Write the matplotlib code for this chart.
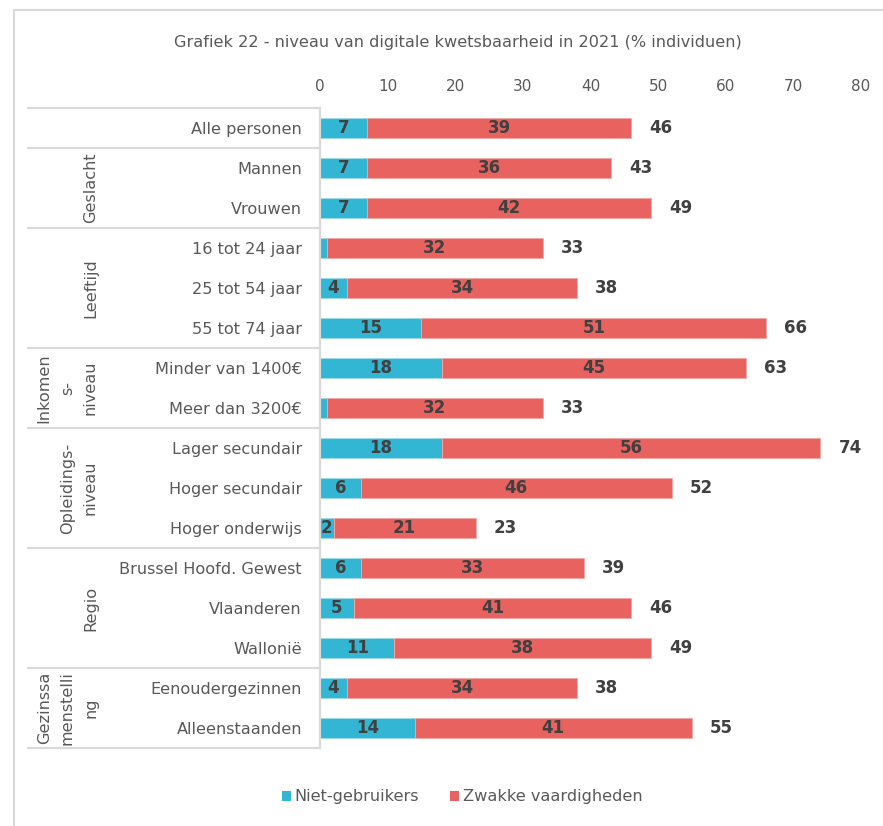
import numpy as np
import matplotlib
matplotlib.use("Agg")
import matplotlib.pyplot as plt
from matplotlib.patches import Patch
from matplotlib.lines import Line2D
import matplotlib.transforms as mtrans

categories = ["Alle personen", "Mannen", "Vrouwen", "16 tot 24 jaar", "25 tot 54 jaar",
              "55 tot 74 jaar", "Minder van 1400€", "Meer dan 3200€", "Lager secundair",
              "Hoger secundair", "Hoger onderwijs", "Brussel Hoofd. Gewest", "Vlaanderen",
              "Wallonië", "Eenoudergezinnen", "Alleenstaanden"]
niet_gebruikers = [7, 7, 7, 1, 4, 15, 18, 1, 18, 6, 2, 6, 5, 11, 4, 14]
zwakke_vaardigheden = [39, 36, 42, 32, 34, 51, 45, 32, 56, 46, 21, 33, 41, 38, 34, 41]
totals = [46, 43, 49, 33, 38, 66, 63, 33, 74, 52, 23, 39, 46, 49, 38, 55]
group_labels = ["Geslacht", "Leeftijd", "Inkomen\ns-\nniveau", "Opleidings-\nniveau",
                "Regio", "Gezinssa\nmenstelli\nng"]
group_rows = [(1, 2), (3, 5), (6, 7), (8, 10), (11, 13), (14, 15)]
xticks = [0, 10, 20, 30, 40, 50, 60, 70, 80]
title = "Grafiek 22 - niveau van digitale kwetsbaarheid in 2021 (% individuen)"
series_names = ["Niet-gebruikers", "Zwakke vaardigheden"]

BLUE = "#33B6D4"
RED = "#E8635F"
TXT = "#595959"
LBL = "#404040"
LINE = "#D9D9D9"

W, H = 883, 826
plt.rcParams['font.family'] = ['DejaVu Sans']
fig = plt.figure(figsize=(W / 100, H / 100), dpi=100)


def fx(px):
    return px / W


def fy(py):
    return 1 - py / H


ax = fig.add_axes([fx(320), fy(748), fx(861) - fx(320), fy(108) - fy(748)])
y = np.arange(len(categories))
ax.barh(y, niet_gebruikers, height=0.5, color=BLUE, edgecolor="#9fdcea", linewidth=0.6)
ax.barh(y, zwakke_vaardigheden, left=niet_gebruikers, height=0.5, color=RED,
        edgecolor="#f3a9a6", linewidth=0.6)
ax.set_xlim(0, 80)
ax.set_ylim(len(categories) - 0.5, -0.5)
ax.xaxis.tick_top()
ax.set_xticks(xticks)
ax.set_xticklabels([str(t) for t in xticks])
ax.tick_params(axis='x', length=0, pad=10, labelcolor=TXT, labelsize=11)
ax.set_yticks(y)
ax.set_yticklabels(categories)
ax.tick_params(axis='y', length=0, pad=13, labelcolor=TXT, labelsize=11.6)
for s in ["top", "right", "bottom"]:
    ax.spines[s].set_visible(False)
ax.spines["left"].set_color(LINE)
ax.spines["left"].set_linewidth(1.6)

for i in range(len(categories)):
    n = niet_gebruikers[i]
    z = zwakke_vaardigheden[i]
    if n >= 2:
        ax.text(n / 2, i, str(n), ha='center', va='center', fontsize=12,
                fontweight='bold', color=LBL)
    ax.text(n + z / 2, i, str(z), ha='center', va='center', fontsize=12,
            fontweight='bold', color=LBL)
    ax.annotate(str(totals[i]), (n + z, i), xytext=(18, 0), textcoords='offset pixels',
                ha='left', va='center', fontsize=12, fontweight='bold', color=LBL)

trans = mtrans.blended_transform_factory(fig.transFigure, ax.transData)
bounds = [-0.5, 0.5] + [b + 0.5 for (a, b) in group_rows]
for b in bounds:
    ax.plot([fx(27), fx(320)], [b, b], transform=trans, color=LINE, lw=1.6,
            clip_on=False, solid_capstyle='butt')

for lab, (a, b) in zip(group_labels, group_rows):
    ax.text(fx(98), (a + b) / 2, lab, transform=trans, rotation=90, ha='right',
            va='center', multialignment='center', linespacing=1.68, fontsize=11.6,
            color=TXT)

fig.text(fx(458), fy(43), title, ha='center', va='center', fontsize=11.6, color=TXT)

handles = [Patch(facecolor=BLUE, label=series_names[0]),
           Patch(facecolor=RED, label=series_names[1])]
fig.legend(handles=handles, loc='center', bbox_to_anchor=(fx(462), fy(797)), ncol=2,
           frameon=False, handlelength=0.6, handleheight=0.6, handletextpad=0.2,
           columnspacing=1.9, fontsize=11.6, labelcolor=TXT)

fig.add_artist(Line2D([fx(14), 1], [fy(10), fy(10)], color=LINE, lw=1.5))
fig.add_artist(Line2D([fx(14), fx(14)], [fy(10), 0], color=LINE, lw=1.5))

fig.savefig("out.png", dpi=100)
